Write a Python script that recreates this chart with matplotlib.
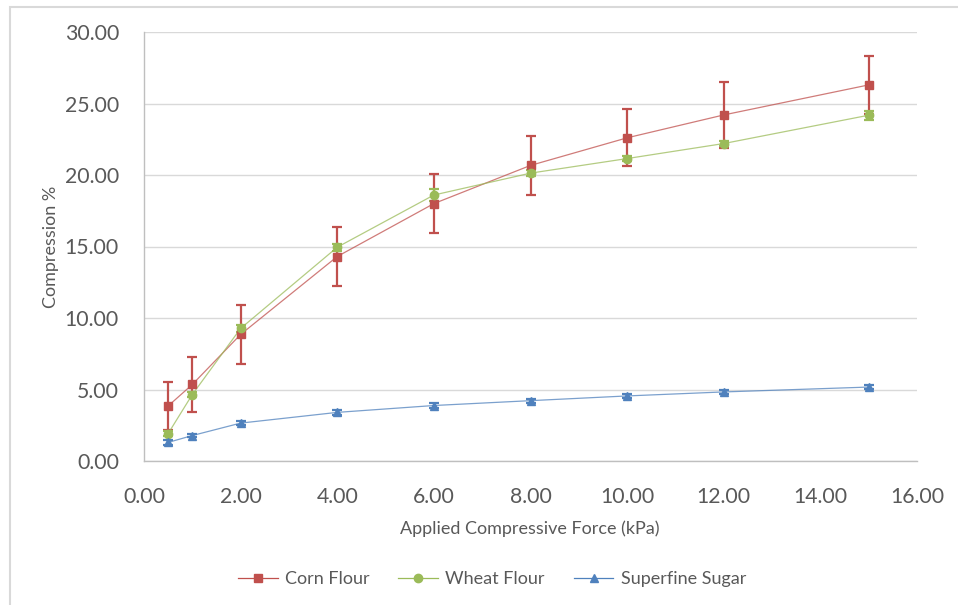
import matplotlib
matplotlib.use("Agg")
import matplotlib.pyplot as plt
from matplotlib.patches import Rectangle

# Data
force = [0.5, 1.0, 2.0, 4.0, 6.0, 8.0, 10.0, 12.0, 15.0]
corn = [3.85, 5.35, 8.85, 14.3, 18.0, 20.67, 22.6, 24.2, 26.3]
corn_err = [1.7, 1.95, 2.05, 2.05, 2.05, 2.06, 2.0, 2.3, 2.03]
wheat = [1.92, 4.65, 9.27, 14.95, 18.6, 20.13, 21.15, 22.2, 24.18]
wheat_err = [0.2, 0.2, 0.25, 0.25, 0.45, 0.2, 0.2, 0.2, 0.3]
sugar = [1.3, 1.78, 2.65, 3.4, 3.88, 4.22, 4.55, 4.83, 5.17]
sugar_err = [0.15, 0.12, 0.15, 0.15, 0.18, 0.15, 0.15, 0.15, 0.15]

series_names = ["Corn Flour", "Wheat Flour", "Superfine Sugar"]
x_ticks = [0, 2, 4, 6, 8, 10, 12, 14, 16]
y_ticks = [0, 5, 10, 15, 20, 25, 30]

plt.rcParams['font.family'] = ['Lato', 'DejaVu Sans']

fig = plt.figure(figsize=(9.58, 6.05), dpi=100)
ax = fig.add_axes([144/958, 1-461/605, (917-144)/958, (461-32)/605])

colors = ["#C0504D", "#9BBB59", "#4F81BD"]
markers = ["s", "o", "^"]
data = [(corn, corn_err), (wheat, wheat_err), (sugar, sugar_err)]

handles = []
for (vals, errs), c, m, name in zip(data, colors, markers, series_names):
    ax.errorbar(force, vals, yerr=errs, fmt='none', ecolor=c, elinewidth=1.6,
                capsize=3.6, capthick=1.6, zorder=3)
    ln, = ax.plot(force, vals, color=c, lw=0.9, alpha=0.75, zorder=3.5)
    ax.plot(force, vals, ls='none', marker=m, markersize=6,
            markeredgecolor=c, markerfacecolor=c, zorder=4)
    h, = ax.plot([], [], color=c, lw=0.9, marker=m, markersize=6,
                 markeredgecolor=c, markerfacecolor=c, label=name)
    handles.append(h)

ax.set_xlim(0, 16)
ax.set_ylim(0, 30)
ax.set_xticks(x_ticks)
ax.set_yticks(y_ticks)
ax.set_xticklabels([f"{v:.2f}" for v in x_ticks])
ax.set_yticklabels([f"{v:.2f}" for v in y_ticks])
ax.tick_params(axis='both', length=0, labelsize=15.3, labelcolor="#595959")
ax.tick_params(axis='y', pad=18)
ax.tick_params(axis='x', pad=18.5)

ax.grid(axis='y', color="#D9D9D9", lw=1.0)
ax.set_axisbelow(True)
for s in ["top", "right"]:
    ax.spines[s].set_visible(False)
for s in ["left", "bottom"]:
    ax.spines[s].set_color("#BFBFBF")
    ax.spines[s].set_linewidth(1.0)

fig.text(530/958, 1-529/605, "Applied Compressive Force (kPa)", ha='center',
         va='center', fontsize=13, color="#595959")
fig.text(51/958, 1-247/605, "Compression %", ha='center', va='center',
         rotation=90, fontsize=13, color="#595959")

leg = fig.legend(handles=handles, labels=series_names, loc='center',
                 bbox_to_anchor=(492/958, 1-579/605), ncol=3, frameon=False,
                 fontsize=13, handlelength=2.2, columnspacing=1.6,
                 handletextpad=0.4, labelcolor="#595959")

# outer chart frame
fig.patches.append(Rectangle((10/958, -0.1), 1.2, 1-7/605+0.1,
                             transform=fig.transFigure, fill=False,
                             edgecolor="#D9D9D9", lw=1.5, clip_on=False))

fig.savefig("out.png", dpi=100, facecolor="white")
